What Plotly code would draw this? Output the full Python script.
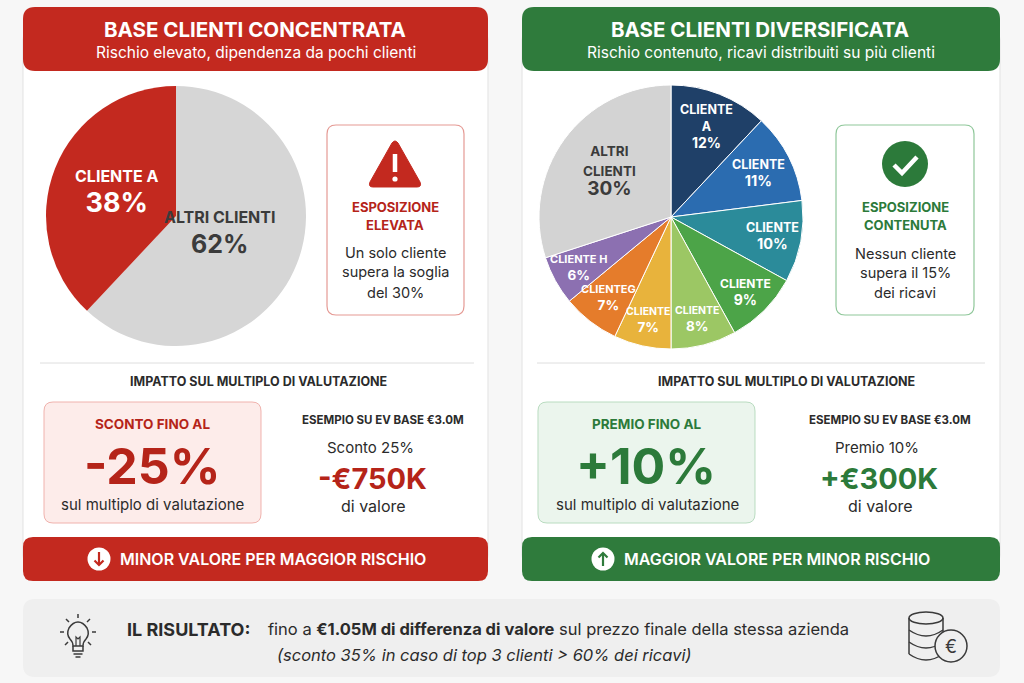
import math
import plotly.graph_objects as go

W, H = 1024, 683
FONT = 'Inter, Roboto, sans-serif'

# --- data -------------------------------------------------------------
# slices listed clockwise from 12 o'clock
conc_labels = ['Altri clienti', 'Cliente A']
conc_values = [62, 38]
conc_text = ['ALTRI CLIENTI', 'CLIENTE A']

div_labels = ['Cliente A', 'Cliente B', 'Cliente C', 'Cliente D', 'Cliente E',
              'Cliente F', 'Cliente G', 'Cliente H', 'Altri clienti']
div_values = [12, 11, 10, 9, 8, 7, 7, 6, 30]
div_text = ['CLIENTE<br>A', 'CLIENTE', 'CLIENTE', 'CLIENTE', 'CLIENTE',
            'CLIENTE', 'CLIENTEG', 'CLIENTE H', 'ALTRI<br>CLIENTI']

ev_base = 3.0          # EV base in €M
multiple_impact = [-25, 10]   # sconto / premio sul multiplo (%)
worst_case_gap = 1.05  # €M
worst_case_discount = 35

RED = '#c3291f'
RED_DARK = '#b52419'
GREEN = '#2f7b3c'
GREEN_TXT = '#2c7a3a'
DARK = '#2b2b2b'

conc_colors = ['#d6d6d6', RED]
div_colors = ['#1f4068', '#2b6cb0', '#2b8b9a', '#4ca448', '#9cc764',
              '#e8b33c', '#e57c2b', '#8c70b1', '#d3d3d3']


def X(px):
    return px / W


def Y(py):
    return 1 - py / H


def path(cmds):
    out = []
    for p in cmds:
        cmd, vals = p[0], p[1:]
        coords = ' '.join(f'{X(vals[i]):.5f},{Y(vals[i + 1]):.5f}' for i in range(0, len(vals), 2))
        out.append(f'{cmd} {coords}')
    return ' '.join(out)


def rrect(x0, y0, x1, y1, r):
    return path([('M', x0 + r, y0), ('L', x1 - r, y0), ('Q', x1, y0, x1, y0 + r),
                 ('L', x1, y1 - r), ('Q', x1, y1, x1 - r, y1), ('L', x0 + r, y1),
                 ('Q', x0, y1, x0, y1 - r), ('L', x0, y0 + r), ('Q', x0, y0, x0 + r, y0)]) + ' Z'


shapes = []
annotations = []


def box(x0, y0, x1, y1, r, fill, line=None, lw=1, layer='below'):
    shapes.append(dict(type='path', path=rrect(x0, y0, x1, y1, r), xref='paper', yref='paper',
                       fillcolor=fill, line=dict(color=line or fill, width=lw if line else 0),
                       layer=layer))


def circle(cx, cy, r, fill, line=None, lw=0, layer='above'):
    shapes.append(dict(type='circle', xref='paper', yref='paper',
                       x0=X(cx - r), x1=X(cx + r), y0=Y(cy + r), y1=Y(cy - r),
                       fillcolor=fill, line=dict(color=line or fill, width=lw), layer=layer))


def line(cmds, color, lw, fill=None, closed=False, layer='above'):
    p = path(cmds) + (' Z' if closed else '')
    shapes.append(dict(type='path', path=p, xref='paper', yref='paper',
                       line=dict(color=color, width=lw), fillcolor=fill or 'rgba(0,0,0,0)',
                       layer=layer))


def txt(x, y, s, size, color=DARK, bold=False, anchor='center', italic=False, weight=None):
    if bold:
        s = f'<b>{s}</b>'
    if italic:
        s = f'<i>{s}</i>'
    f = dict(family=FONT, size=size, color=color)
    if weight:
        f['weight'] = weight
    annotations.append(dict(x=X(x), y=Y(y), xref='paper', yref='paper', text=s,
                            showarrow=False, xanchor=anchor, yanchor='middle', font=f))


# --- panels -----------------------------------------------------------
for (x0, x1, col, title, sub) in [
        (23, 488, RED, 'BASE CLIENTI CONCENTRATA', 'Rischio elevato, dipendenza da pochi clienti'),
        (522, 1000, GREEN, 'BASE CLIENTI DIVERSIFICATA', 'Rischio contenuto, ricavi distribuiti su più clienti')]:
    box(x0, 30, x1, 565, 10, 'white', '#e2e2e2', 1)
    box(x0, 7, x1, 71, 12, col)
    box(x0, 537, x1, 581, 10, col)
    cx = (x0 + x1) / 2
    txt(cx - 1, 29, title, 20.5, 'white', bold=True)
    txt(cx, 52, sub, 15.5, 'white')

# separators
line([('M', 40, 363), ('L', 474, 363)], '#dedede', 1, layer='below')
line([('M', 537, 363), ('L', 985, 363)], '#dedede', 1, layer='below')

# exposure boxes
box(327, 125, 464, 315, 9, 'white', '#e59a94', 1.2)
box(836, 125, 974, 315, 9, 'white', '#8fc79a', 1.2)

# warning icon
line([('M', 392, 143), ('Q', 395, 139, 398, 143), ('L', 420, 182), ('Q', 422, 187, 417, 187),
      ('L', 373, 187), ('Q', 368, 187, 370, 182)], RED, 1, fill=RED, closed=True)
line([('M', 395, 154), ('L', 395, 172)], 'white', 4.5)
circle(395, 179, 2.6, 'white')
txt(395, 207, 'ESPOSIZIONE', 13, RED_DARK, bold=True)
txt(395, 225, 'ELEVATA', 13, RED_DARK, bold=True)
txt(395, 252, 'Un solo cliente', 14.5, DARK)
txt(395, 272, 'supera la soglia', 14.5, DARK)
txt(395, 292, 'del 30%', 14.5, DARK)

# check icon
circle(905, 164, 23, GREEN_TXT)
line([('M', 894, 165), ('L', 902, 173), ('L', 917, 157)], 'white', 4.5)
txt(905, 207, 'ESPOSIZIONE', 13, GREEN_TXT, bold=True)
txt(905, 225, 'CONTENUTA', 13, GREEN_TXT, bold=True)
txt(905, 253, 'Nessun cliente', 14.5, DARK)
txt(905, 273, 'supera il 15%', 14.5, DARK)
txt(905, 292, 'dei ricavi', 14.5, DARK)

# impact section
txt(258, 381, 'IMPATTO SUL MULTIPLO DI VALUTAZIONE', 12.5, DARK, bold=True)
txt(786, 381, 'IMPATTO SUL MULTIPLO DI VALUTAZIONE', 12.5, DARK, bold=True)

box(44, 402, 261, 523, 9, '#fdecea', '#f0b2ad', 1)
box(538, 402, 755, 523, 9, '#ebf5ed', '#b9dcc0', 1)

sconto, premio = multiple_impact
txt(152, 424, 'SCONTO FINO AL', 13.5, RED_DARK, bold=True)
txt(152, 466, f'{sconto}%', 50, RED_DARK, bold=True)
txt(152, 504, 'sul multiplo di valutazione', 15, DARK)
txt(646, 424, 'PREMIO FINO AL', 13.5, GREEN_TXT, bold=True)
txt(646, 466, f'+{premio}%', 50, GREEN_TXT, bold=True)
txt(647, 504, 'sul multiplo di valutazione', 15, DARK)

for cx, pct, label, col in [(372, sconto, 'Sconto', RED_DARK), (879, premio, 'Premio', GREEN_TXT)]:
    delta = ev_base * 1000 * pct / 100
    sign = '-' if delta < 0 else '+'
    txt(cx + 11, 420, f'ESEMPIO SU EV BASE €{ev_base:.1f}M', 11.5, DARK, bold=True)
    txt(cx - 2, 447, f'{label} {abs(pct)}%', 15, DARK)
    txt(cx, 478, f'{sign}€{abs(delta):.0f}K', 29, col, bold=True)
    txt(cx + 1, 506, 'di valore', 16, DARK)

# banners
circle(99, 559, 11.5, 'white')
line([('M', 99, 552), ('L', 99, 565)], RED, 2.2)
line([('M', 94.5, 560.5), ('L', 99, 565), ('L', 103.5, 560.5)], RED, 2.2)
txt(273, 559, 'MINOR VALORE PER MAGGIOR RISCHIO', 16, 'white', weight=600)
circle(603, 559, 11.5, 'white')
line([('M', 603, 566), ('L', 603, 553)], GREEN, 2.2)
line([('M', 598.5, 557.5), ('L', 603, 553), ('L', 607.5, 557.5)], GREEN, 2.2)
txt(777, 559, 'MAGGIOR VALORE PER MINOR RISCHIO', 16, 'white', weight=600)

# result box
box(23, 599, 1000, 677, 12, '#efefef')
ICON = '#3a3a3a'
line([('M', 73, 646), ('Q', 73, 642, 70, 639), ('Q', 66, 634, 69, 628), ('Q', 73, 622, 78, 622),
      ('Q', 83, 622, 87, 628), ('Q', 90, 634, 86, 639), ('Q', 83, 642, 83, 646), ('Z',)], ICON, 1.5)
line([('M', 73, 646), ('L', 73, 651), ('L', 83, 651), ('L', 83, 646)], ICON, 1.5)
line([('M', 73.5, 654), ('L', 82.5, 654)], ICON, 1.5)
line([('M', 75.5, 657), ('L', 80.5, 657)], ICON, 1.5)
line([('M', 76, 646), ('L', 76, 637), ('L', 78, 639), ('L', 80, 637), ('L', 80, 646)], ICON, 1.2)
for (a, b, c, d) in [(78, 614, 78, 618), (66, 619, 69, 622), (90, 619, 87, 622),
                     (60, 632, 64, 632), (92, 632, 96, 632), (65, 645, 68, 642), (91, 645, 88, 642)]:
    line([('M', a, b), ('L', c, d)], ICON, 1.5)
txt(125, 629, 'IL RISULTATO:', 18, DARK, bold=True, anchor='left')
txt(266, 629, f'fino a <b>€{worst_case_gap:.2f}M di differenza di valore</b> sul prezzo finale della stessa azienda',
    16.5, DARK, anchor='left')
txt(275, 655, f'(sconto {worst_case_discount}% in caso di top 3 clienti &gt; 60% dei ricavi)', 16.5, DARK,
    italic=True, anchor='left')

# coins
cx0, rx, ry = 926, 17, 6
for yb in [630, 642, 654]:
    line([('M', cx0 - rx, yb), ('Q', cx0, yb + 2 * ry, cx0 + rx, yb)], ICON, 1.5)
line([('M', cx0 - rx, 618), ('L', cx0 - rx, 654)], ICON, 1.5)
line([('M', cx0 + rx, 618), ('L', cx0 + rx, 654)], ICON, 1.5)
shapes.append(dict(type='circle', xref='paper', yref='paper', x0=X(cx0 - rx), x1=X(cx0 + rx),
                   y0=Y(618 + ry), y1=Y(618 - ry), line=dict(color=ICON, width=1.5)))
circle(951, 646, 16, '#efefef', ICON, 1.5)
txt(951, 646, '€', 18, ICON)


# --- pies ------------------------------------------------------------
def dom(cx, cy, r):
    return dict(x=[X(cx - r), X(cx + r)], y=[Y(cy + r), Y(cy - r)])


def pie_labels(cx, cy, r, values, texts, colors, radii, bases, lab_sizes, pct_sizes):
    total = sum(values)
    cum = 0
    for v, t, c, rf, b, ls, ps in zip(values, texts, colors, radii, bases, lab_sizes, pct_sizes):
        mid = math.radians((cum + v / 2) / total * 360)
        cum += v
        tx = cx + rf * r * math.sin(mid)
        ty = cy - rf * r * math.cos(mid)
        t = t.replace('<br>', f'</span><br><span style="font-size:{ls}px">')
        s = (f'<b><span style="font-size:{ls}px">{t}</span><br>'
             f'<span style="font-size:{ps}px">{v}%</span></b>')
        annotations.append(dict(x=X(tx), y=Y(ty), xref='paper', yref='paper', text=s,
                                showarrow=False, xanchor='center', yanchor='middle',
                                font=dict(family=FONT, size=b, color=c)))


fig = go.Figure()
fig.add_trace(go.Pie(
    labels=conc_labels, values=conc_values, sort=False,
    direction='clockwise', rotation=0,
    marker=dict(colors=conc_colors, line=dict(color='white', width=0)),
    textinfo='none', hoverinfo='skip', showlegend=False, domain=dom(176, 216, 130)))
pie_labels(176, 216, 130, conc_values, conc_text, ['#3b3b3b', 'white'], [0.36, 0.49],
           [23, 23], [16, 16], [25, 27])

fig.add_trace(go.Pie(
    labels=div_labels, values=div_values, sort=False,
    direction='clockwise', rotation=0,
    marker=dict(colors=div_colors, line=dict(color='white', width=1)),
    textinfo='none', hoverinfo='skip', showlegend=False, domain=dom(671, 217, 132)))
pie_labels(671, 217, 132, div_values, div_text, ['white'] * 8 + ['#3b3b3b'],
           [0.74, 0.74, 0.78, 0.8, 0.8, 0.8, 0.77, 0.8, 0.58], [13] * 8 + [15],
           [12.5, 12.5, 12.5, 12, 10.5, 10.5, 11, 11, 13.5],
           [14, 14.5, 14.5, 14, 13.5, 13.5, 13.5, 13.5, 19])

fig.update_layout(
    width=W, height=H, margin=dict(l=0, r=0, t=0, b=0),
    paper_bgcolor='#f7f7f7', plot_bgcolor='#f7f7f7',
    shapes=shapes, annotations=annotations,
)

fig.write_html("out.html", config={'displayModeBar': False},
               post_script="document.body.style.margin='0';")
